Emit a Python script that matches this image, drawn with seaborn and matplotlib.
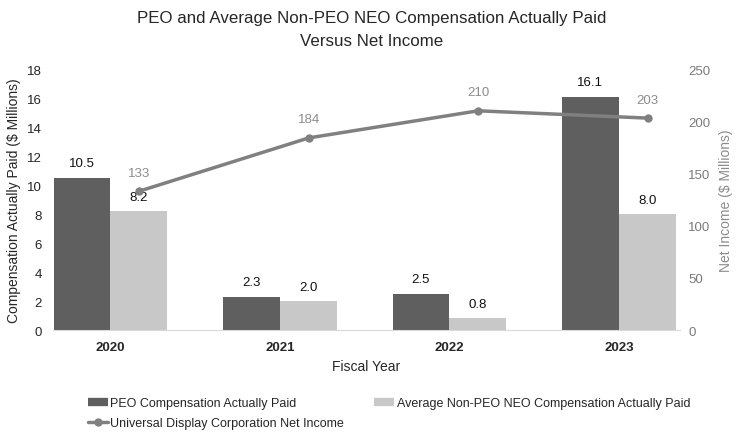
import numpy as np
import pandas as pd
import seaborn as sns
import matplotlib.pyplot as plt
from matplotlib.lines import Line2D

# chart values
years = ["2020", "2021", "2022", "2023"]
peo_cap = [10.5, 2.3, 2.5, 16.1]
neo_cap = [8.2, 2.0, 0.8, 8.0]
net_income = [133, 184, 210, 203]

series_names = ["PEO Compensation Actually Paid", "Average Non-PEO NEO Compensation Actually Paid"]
line_name = "Universal Display Corporation Net Income"

dark = "#5f5f5f"
light = "#c8c8c8"
line_col = "#808080"

df = pd.DataFrame({
    "year": years * 2,
    "value": peo_cap + neo_cap,
    "series": [series_names[0]] * 4 + [series_names[1]] * 4,
})

sns.set_style("white")
plt.rcParams["font.family"] = ["Liberation Sans", "DejaVu Sans"]

fig = plt.figure(figsize=(7.43, 4.35), dpi=100)
ax = fig.add_axes([0.071, 0.239, 0.844, 0.6])

sns.barplot(data=df, x="year", y="value", hue="series", order=years,
            hue_order=series_names, palette=[dark, light], width=0.67,
            gap=0, saturation=1, ax=ax, legend=False, linewidth=0, edgecolor="none")

for cont in ax.containers:
    ax.bar_label(cont, fmt="%.1f", padding=6, fontsize=9.5, color="#111111")

ax.set_ylim(0, 18)
ax.set_yticks(range(0, 19, 2))
ax.set_xlim(-0.34, 3.36)
ax.set_xlabel("Fiscal Year", fontsize=10, labelpad=4)
ax.set_ylabel("Compensation Actually Paid ($ Millions)", fontsize=10, labelpad=4)
ax.tick_params(axis="y", labelsize=9.5, length=0, pad=8)
ax.tick_params(axis="x", labelsize=9.5, length=0, pad=8)
for t in ax.get_xticklabels():
    t.set_fontweight("bold")
for s in ["top", "right", "left"]:
    ax.spines[s].set_visible(False)
ax.spines["bottom"].set_color("#d9d9d9")

ax2 = ax.twinx()
xpos = np.arange(len(years)) + 0.17
sns.lineplot(x=xpos, y=net_income, ax=ax2, color=line_col, linewidth=2.5,
             marker="o", markersize=6, markeredgewidth=0)
for x, v in zip(xpos, net_income):
    ax2.annotate(str(v), (x, v), xytext=(0, 9), textcoords="offset points",
                 ha="center", va="bottom", fontsize=9.5, color="#8c8c8c")
ax2.set_ylim(0, 250)
ax2.set_yticks(range(0, 251, 50))
ax2.set_ylabel("Net Income ($ Millions)", fontsize=10, color="#8c8c8c", labelpad=6)
ax2.tick_params(axis="y", labelsize=9.5, length=0, pad=6, labelcolor="#7a7a7a")
for s in ["top", "right", "left", "bottom"]:
    ax2.spines[s].set_visible(False)

fig.suptitle("PEO and Average Non-PEO NEO Compensation Actually Paid\nVersus Net Income",
             fontsize=12.2, y=0.975, linespacing=1.7)

handles = [
    Line2D([0], [0], color=dark, lw=6, solid_capstyle="butt", label=series_names[0]),
    Line2D([0], [0], color=line_col, lw=2.5, marker="o", markersize=6,
           markeredgewidth=0, label=line_name),
    Line2D([0], [0], color=light, lw=6, solid_capstyle="butt", label=series_names[1]),
]
fig.legend(handles=handles, ncol=2, loc="upper left", bbox_to_anchor=(0.103, 0.11),
           frameon=False, fontsize=9, handlelength=1.6, handletextpad=0.2,
           columnspacing=2.4, labelspacing=0.6)

fig.savefig("out.png", dpi=100)
